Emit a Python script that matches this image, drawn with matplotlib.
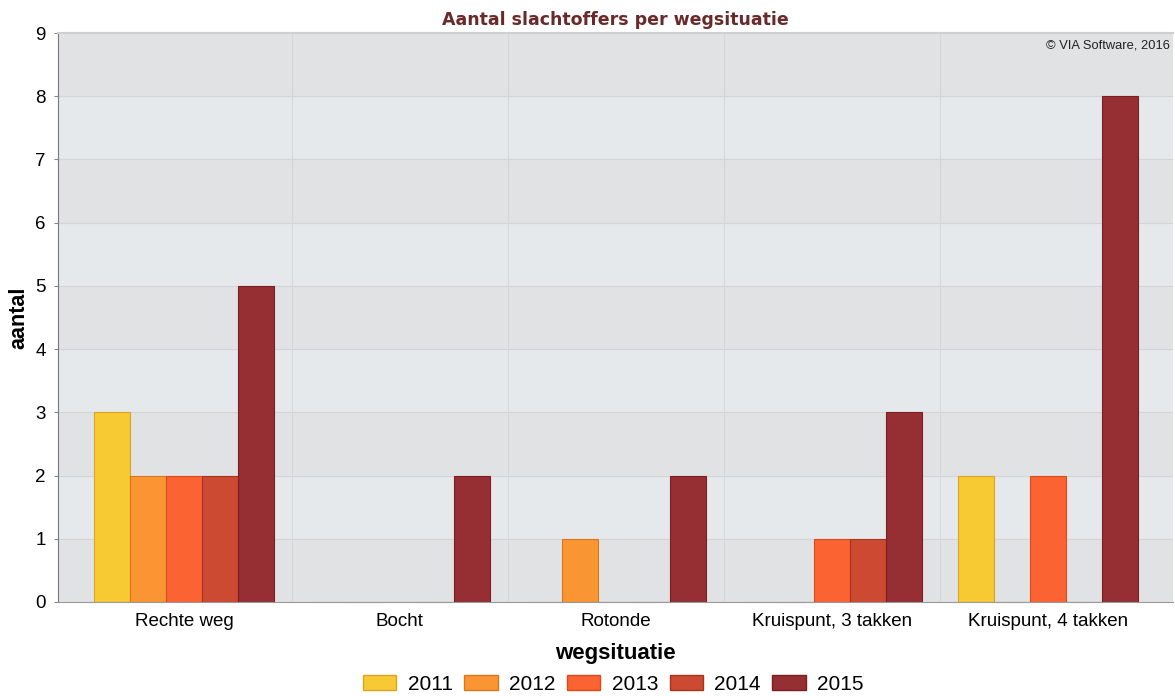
import numpy as np
from matplotlib import pyplot as plt
from matplotlib.patches import Patch

# data
categories = ['Rechte weg', 'Bocht', 'Rotonde', 'Kruispunt, 3 takken', 'Kruispunt, 4 takken']
years = ['2011', '2012', '2013', '2014', '2015']
v2011 = [3, 0, 0, 0, 2]
v2012 = [2, 0, 1, 0, 0]
v2013 = [2, 0, 0, 1, 2]
v2014 = [2, 0, 0, 1, 0]
v2015 = [5, 2, 2, 3, 8]
series = [v2011, v2012, v2013, v2014, v2015]

colors = ['#f7c933', '#f99633', '#fb6432', '#cc4a32', '#962f33']
edges = ['#d9a520', '#d9761c', '#d94a1c', '#a8341e', '#7a1e22']

plt.rcParams['font.family'] = ['Liberation Sans', 'DejaVu Sans']

fig = plt.figure(figsize=(11.75, 6.96), dpi=100)
ax = fig.add_axes([58/1175, 94/696, 1115/1175, 569/696])

# alternating background bands
for k in range(9):
    ax.axhspan(k, k + 1, color='#e1e2e4' if k % 2 == 0 else '#e6e9ec', zorder=0, lw=0)
for k in range(1, 9):
    ax.axhline(k, color='#d3d4d6', lw=0.8, zorder=0.5)
for xb in [0.5, 1.5, 2.5, 3.5]:
    ax.axvline(xb, color='#d6d7d9', lw=0.8, zorder=0.5)

x = np.arange(len(categories))
w = 1 / 6
for i, vals in enumerate(series):
    offs = (i - 2) * w
    ax.bar(x + offs, vals, width=w, color=colors[i], edgecolor=edges[i],
           linewidth=0.8, zorder=2)

ax.set_xlim(-0.583, 4.58)
ax.set_ylim(0, 9)
ax.set_yticks(range(10))
ax.set_xticks(x)
ax.set_xticklabels(categories, fontsize=13.5)
ax.tick_params(axis='y', labelsize=13.5, length=3, color='#888888', pad=6)
ax.tick_params(axis='x', length=0, pad=8)

for s in ['right']:
    ax.spines[s].set_visible(False)
ax.spines['top'].set_color('#cfcfcf')
ax.spines['top'].set_linewidth(1.5)
ax.spines['left'].set_color('#777777')
ax.spines['bottom'].set_color('#999999')

ax.set_ylabel('aantal', fontsize=15.5, fontweight='bold', labelpad=4)
ax.set_xlabel('wegsituatie', fontsize=16, fontweight='bold', labelpad=9)
ax.set_title('Aantal slachtoffers per wegsituatie', fontsize=12.5, fontweight='bold',
             color='#6b2a2a', family='DejaVu Sans', pad=6)

ax.text(0.997, 0.988, '\u00a9 VIA Software, 2016', transform=ax.transAxes,
        ha='right', va='top', fontsize=9.3, color='#222222')

handles = [Patch(facecolor=colors[i], edgecolor=edges[i], label=years[i]) for i in range(5)]
fig.legend(handles=handles, loc='center', bbox_to_anchor=(0.522, 0.017), ncol=5,
           frameon=False, fontsize=15, handlelength=1.6, handleheight=0.75,
           columnspacing=0.55, handletextpad=0.55)

fig.savefig('out.png', dpi=100)
